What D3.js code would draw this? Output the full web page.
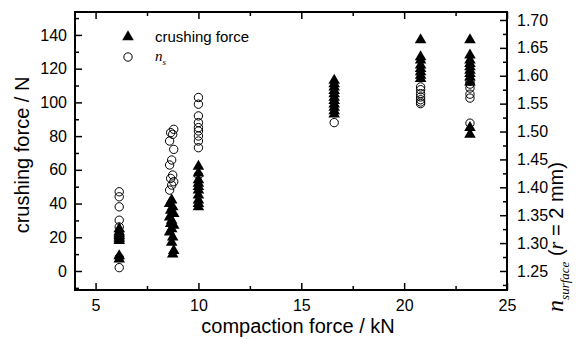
<!DOCTYPE html>
<html>
<head>
<meta charset="utf-8">
<script src="https://cdn.jsdelivr.net/npm/d3@7"></script>
<style>
  body { margin: 0; background: #fff; }
  text { font-family: "Liberation Sans", Arial, sans-serif; fill: #000; }
</style>
</head>
<body>
<div id="chart"></div>
<script>
// crushing force (left axis, N)
const forceX = [
  6.15, 6.15, 6.15, 6.15, 6.15, 6.15, 6.15, 6.15, 6.15,
  8.7, 8.6, 8.75, 8.65, 8.8, 8.6, 8.7, 8.65, 8.8, 8.7, 8.6, 8.75, 8.7, 8.8, 8.75,
  10.0, 10.0, 10.0, 10.0, 10.0, 10.0, 10.0, 10.0, 10.0, 10.0,
  16.6, 16.6, 16.6, 16.6, 16.6, 16.6, 16.6, 16.6, 16.6, 16.6, 16.6,
  20.8, 20.8, 20.8, 20.8, 20.8, 20.8, 20.8, 20.8,
  23.2, 23.2, 23.2, 23.2, 23.2, 23.2, 23.2, 23.2, 23.2, 23.2, 23.2
];
const forceVal = [
  25, 23, 22, 21, 20, 19, 18, 9, 7,
  42, 40, 38, 36, 34, 32, 30, 28, 27, 25, 23, 20, 17, 12, 10,
  62, 58, 54, 52, 50, 48, 45, 42, 40, 38,
  113, 111, 109, 107, 105, 103, 101, 99, 97, 95, 93,
  137, 127, 125, 122, 120, 118, 116, 114,
  137, 128, 125, 123, 121, 119, 117, 115, 112, 85, 81
];

// n_s (right axis)
const nX = [
  6.15, 6.15, 6.15, 6.15, 6.15, 6.15, 6.15, 6.15, 6.15,
  8.8, 8.65, 8.75, 8.6, 8.8, 8.7, 8.6, 8.75, 8.65, 8.8, 8.7, 8.6,
  10.0, 10.0, 10.0, 10.0, 10.0, 10.0, 10.0, 10.0, 10.0, 10.0,
  16.6,
  20.8, 20.8, 20.8, 20.8, 20.8, 20.8, 20.8,
  23.2, 23.2, 23.2, 23.2, 23.2, 23.2
];
const nVal = [
  1.392, 1.383, 1.365, 1.341, 1.329, 1.316, 1.310, 1.274, 1.256,
  1.504, 1.498, 1.495, 1.483, 1.468, 1.449, 1.440, 1.422, 1.416, 1.410, 1.404, 1.395,
  1.561, 1.549, 1.528, 1.516, 1.507, 1.501, 1.492, 1.483, 1.471, 1.422,
  1.516,
  1.580, 1.575, 1.568, 1.562, 1.557, 1.553, 1.550,
  1.590, 1.585, 1.578, 1.567, 1.560, 1.515
];

const xTicks = [5, 10, 15, 20, 25];
const leftTicks = [0, 20, 40, 60, 80, 100, 120, 140];
const rightTicks = [1.25, 1.30, 1.35, 1.40, 1.45, 1.50, 1.55, 1.60, 1.65, 1.70];

const width = 581, height = 339;
const margin = { top: 12, right: 74, bottom: 49, left: 75 };
const plotW = width - margin.left - margin.right;
const plotH = height - margin.top - margin.bottom;

const svg = d3.select('#chart').append('svg')
  .attr('width', width)
  .attr('height', height);

const g = svg.append('g')
  .attr('transform', `translate(${margin.left},${margin.top})`);

const x = d3.scaleLinear().domain([4, 25]).range([0, plotW]);
const y = d3.scaleLinear().domain([-11.27, 153.6]).range([plotH, 0]);
const y2 = d3.scaleLinear().domain([1.2159, 1.7143]).range([plotH, 0]);

// axes, ticks pointing inward
function styleAxis(sel) {
  sel.select('.domain').remove();
  sel.selectAll('line').attr('stroke', '#000').attr('stroke-width', 1.5);
  sel.selectAll('text').style('font-size', '16px');
}

const xMinor = d3.range(5, 25, 2.5).filter(v => v % 5 !== 0);
const leftMinor = d3.range(-10, 151, 10).filter(v => v % 20 !== 0);
const rightMinor = d3.range(1.225, 1.71, 0.05);

// bottom
g.append('g').attr('transform', `translate(0,${plotH})`)
  .call(d3.axisBottom(x).tickValues(xTicks).tickSize(-7).tickPadding(10))
  .call(styleAxis);
g.append('g').attr('transform', `translate(0,${plotH})`)
  .call(d3.axisBottom(x).tickValues(xMinor).tickSize(-4).tickFormat(''))
  .call(styleAxis);
// top
g.append('g')
  .call(d3.axisTop(x).tickValues(xTicks).tickSize(-7).tickFormat(''))
  .call(styleAxis);
g.append('g')
  .call(d3.axisTop(x).tickValues(xMinor).tickSize(-4).tickFormat(''))
  .call(styleAxis);
// left
g.append('g')
  .call(d3.axisLeft(y).tickValues(leftTicks).tickSize(-7).tickPadding(8))
  .call(styleAxis);
g.append('g')
  .call(d3.axisLeft(y).tickValues(leftMinor).tickSize(-4).tickFormat(''))
  .call(styleAxis);
// right
g.append('g').attr('transform', `translate(${plotW},0)`)
  .call(d3.axisRight(y2).tickValues(rightTicks).tickSize(-7).tickPadding(10).tickFormat(d3.format('.2f')))
  .call(styleAxis);
g.append('g').attr('transform', `translate(${plotW},0)`)
  .call(d3.axisRight(y2).tickValues(rightMinor).tickSize(-4).tickFormat(''))
  .call(styleAxis);

// frame
g.append('rect')
  .attr('width', plotW).attr('height', plotH)
  .attr('fill', 'none').attr('stroke', '#000').attr('stroke-width', 2);

const tri = d3.symbol().type(d3.symbolTriangle).size(58);
const circ = d3.symbol().type(d3.symbolCircle).size(55);

g.selectAll('.tri')
  .data(forceVal)
  .enter()
  .append('path')
  .attr('class', 'tri')
  .attr('d', tri)
  .attr('transform', (d, i) => `translate(${x(forceX[i])},${y(d)})`)
  .attr('fill', '#000');

g.selectAll('.circ')
  .data(nVal)
  .enter()
  .append('path')
  .attr('class', 'circ')
  .attr('d', circ)
  .attr('transform', (d, i) => `translate(${x(nX[i])},${y2(d)})`)
  .attr('fill', 'none')
  .attr('stroke', '#000')
  .attr('stroke-width', 1);

// legend
const leg = g.append('g').attr('transform', 'translate(53,25)');
leg.append('path').attr('d', tri).attr('fill', '#000');
leg.append('text').attr('x', 27).attr('y', 5).style('font-size', '15px').text('crushing force');
leg.append('path').attr('d', circ).attr('transform', 'translate(0,20)')
  .attr('fill', 'none').attr('stroke', '#000');
const nsText = leg.append('text').attr('x', 27).attr('y', 24)
  .style('font-family', '"Liberation Serif", serif').style('font-style', 'italic').style('font-size', '15px');
nsText.append('tspan').text('n');
nsText.append('tspan').attr('dy', 4).style('font-size', '9px').text('s');

// axis titles
svg.append('text')
  .attr('x', margin.left + plotW / 2 + 7)
  .attr('y', 333)
  .attr('text-anchor', 'middle')
  .style('font-size', '20px')
  .text('compaction force / kN');

svg.append('text')
  .attr('transform', `translate(29,${margin.top + 143}) rotate(-90)`)
  .attr('text-anchor', 'middle')
  .style('font-size', '20px')
  .text('crushing force / N');

const rt = svg.append('text')
  .attr('transform', `translate(563,${margin.top + 225}) rotate(-90)`)
  .attr('text-anchor', 'middle')
  .style('font-size', '20px');
rt.append('tspan').style('font-family', '"Liberation Serif", serif').style('font-style', 'italic').style('font-size', '24px').text('n');
rt.append('tspan').attr('dy', 6).style('font-family', '"Liberation Serif", serif').style('font-style', 'italic').style('font-size', '13px').text('surface');
rt.append('tspan').attr('dy', -6).text(' (');
rt.append('tspan').style('font-family', '"Liberation Serif", serif').style('font-style', 'italic').text('r');
rt.append('tspan').text(' = 2 mm)');
</script>
</body>
</html>
